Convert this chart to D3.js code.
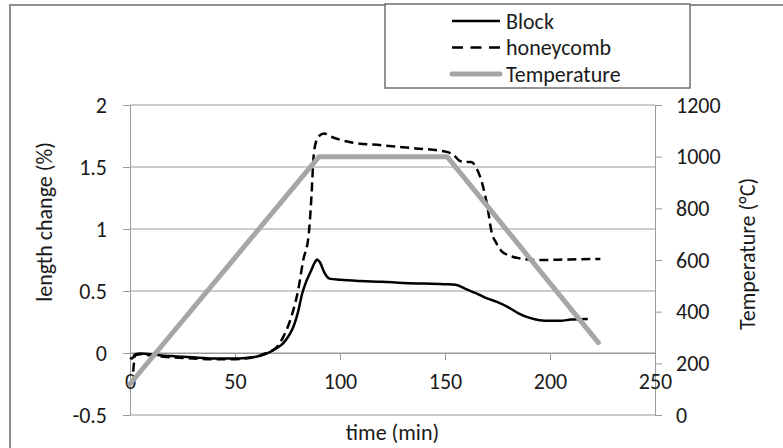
<!DOCTYPE html>
<html>
<head>
<meta charset="utf-8">
<script src="https://cdn.jsdelivr.net/npm/d3@7"></script>
<style>
  body { margin: 0; background: #fff; }
  svg text { font-family: Carlito, Calibri, Lato, sans-serif; fill: #1a1a1a; }
</style>
</head>
<body>
<div id="chart"></div>
<script>
// Block sample (solid line)
const blockTime = [0, 1, 2.5, 5, 10, 15, 20, 25, 30, 35, 40, 45, 50, 55, 60, 65, 70, 73, 76, 78, 80, 82, 84, 86, 88, 89, 90.5, 92.5, 95, 100, 110, 120, 130, 140, 150, 155, 160, 165, 170, 175, 180, 185, 190, 195, 200, 205, 210, 218];
const blockValue = [-0.04, -0.045, -0.01, -0.005, -0.01, -0.02, -0.025, -0.03, -0.035, -0.04, -0.045, -0.045, -0.045, -0.04, -0.03, -0.005, 0.04, 0.08, 0.15, 0.22, 0.33, 0.48, 0.58, 0.655, 0.73, 0.755, 0.73, 0.65, 0.6, 0.59, 0.58, 0.575, 0.565, 0.56, 0.555, 0.55, 0.515, 0.48, 0.44, 0.41, 0.37, 0.32, 0.285, 0.265, 0.26, 0.26, 0.27, 0.275];

// honeycomb sample (dashed line)
const honeyTime = [1.5, 2.5, 5, 10, 20, 30, 40, 50, 55, 60, 65, 70, 73, 76, 78, 80, 82.5, 85, 86.5, 87.3, 88.5, 90, 92.5, 95, 100, 105, 120, 136, 150, 154, 157, 160, 162.5, 165, 168, 170.5, 172, 174.5, 177, 180, 185, 195, 210, 224];
const honeyValue = [-0.15, -0.02, -0.01, -0.02, -0.035, -0.045, -0.05, -0.05, -0.045, -0.03, 0.0, 0.05, 0.13, 0.25, 0.36, 0.5, 0.75, 0.94, 1.29, 1.556, 1.7, 1.75, 1.77, 1.75, 1.72, 1.7, 1.675, 1.65, 1.625, 1.6, 1.55, 1.54, 1.54, 1.49, 1.35, 1.15, 0.99, 0.885, 0.82, 0.79, 0.765, 0.75, 0.755, 0.758];

// furnace temperature (secondary axis)
const tempTime = [0, 90, 151, 223];
const tempValue = [120, 1000, 1000, 280];

const xTicks = [0, 50, 100, 150, 200, 250];
const leftTicks = [-0.5, 0, 0.5, 1, 1.5, 2];
const rightTicks = [0, 200, 400, 600, 800, 1000, 1200];
const legendLabels = ["Block", "honeycomb", "Temperature"];

const width = 783, height = 448;
const plotLeft = 130, plotRight = 655, plotTop = 105, plotBottom = 415;
const fontSize = 22;

const svg = d3.select("#chart")
  .append("svg")
  .attr("width", width)
  .attr("height", height);

// outer chart border
svg.append("rect")
  .attr("x", 10).attr("y", 5)
  .attr("width", 800).attr("height", 500)
  .attr("fill", "none")
  .attr("stroke", "#8e8e8e")
  .attr("stroke-width", 2);

const x = d3.scaleLinear().domain([0, 250]).range([plotLeft, plotRight]);
const yLeft = d3.scaleLinear().domain([-0.5, 2]).range([plotBottom, plotTop]);
const yRight = d3.scaleLinear().domain([0, 1200]).range([plotBottom, plotTop]);

const gridColor = "#9a9a9a";

// horizontal gridlines
svg.append("g")
  .selectAll("line")
  .data(leftTicks)
  .enter()
  .append("line")
  .attr("x1", plotLeft)
  .attr("x2", plotRight)
  .attr("y1", d => yLeft(d))
  .attr("y2", d => yLeft(d))
  .attr("stroke", gridColor)
  .attr("stroke-width", 1);

// left axis (plain hyphen for negatives, like the original)
const leftAxis = svg.append("g")
  .attr("transform", `translate(${plotLeft},0)`)
  .call(d3.axisLeft(yLeft).tickValues(leftTicks).tickSize(7).tickPadding(16).tickFormat(d => String(d)));

// right axis
const rightAxis = svg.append("g")
  .attr("transform", `translate(${plotRight},0)`)
  .call(d3.axisRight(yRight).tickValues(rightTicks).tickSize(7).tickPadding(14).tickFormat(d => String(d)));

// x axis sits at zero of the left scale
const xAxis = svg.append("g")
  .attr("transform", `translate(0,${yLeft(0)})`)
  .call(d3.axisBottom(x).tickValues(xTicks).tickSize(7));

[leftAxis, rightAxis, xAxis].forEach(g => {
  g.select(".domain").attr("stroke", gridColor).attr("stroke-width", 1);
  g.selectAll(".tick line").attr("stroke", gridColor);
  g.selectAll(".tick text").attr("font-size", fontSize).attr("fill", "#1a1a1a")
    .style("font-family", "Carlito, Calibri, Lato, sans-serif");
});
xAxis.selectAll(".tick text").attr("y", 36).attr("dy", 0);

// lines
const blockLine = d3.line()
  .x((d, i) => x(blockTime[i]))
  .y(d => yLeft(d))
  .curve(d3.curveMonotoneX);

const honeyLine = d3.line()
  .x((d, i) => x(honeyTime[i]))
  .y(d => yLeft(d))
  .curve(d3.curveMonotoneX);

const tempLine = d3.line()
  .x((d, i) => x(tempTime[i]))
  .y(d => yRight(d));

svg.append("path")
  .datum(blockValue)
  .attr("d", blockLine)
  .attr("fill", "none")
  .attr("stroke", "#000")
  .attr("stroke-width", 2.5);

svg.append("path")
  .datum(honeyValue)
  .attr("d", honeyLine)
  .attr("fill", "none")
  .attr("stroke", "#000")
  .attr("stroke-width", 2.5)
  .attr("stroke-dasharray", "9,5");

svg.append("path")
  .datum(tempValue)
  .attr("d", tempLine)
  .attr("fill", "none")
  .attr("stroke", "#a6a6a6")
  .attr("stroke-width", 5)
  .attr("stroke-linecap", "round")
  .attr("stroke-linejoin", "round");

// axis titles
svg.append("text")
  .attr("transform", "translate(52,222) rotate(-90)")
  .attr("text-anchor", "middle")
  .attr("font-size", fontSize)
  .text("length change (%)");

svg.append("text")
  .attr("transform", "translate(755,254) rotate(-90)")
  .attr("text-anchor", "middle")
  .attr("font-size", fontSize)
  .text("Temperature (°C)");

svg.append("text")
  .attr("x", (plotLeft + plotRight) / 2)
  .attr("y", 440)
  .attr("text-anchor", "middle")
  .attr("font-size", fontSize)
  .text("time (min)");

// legend
const legend = svg.append("g");
legend.append("rect")
  .attr("x", 385).attr("y", 4)
  .attr("width", 305).attr("height", 84)
  .attr("fill", "#fff")
  .attr("stroke", "#6f6f6f")
  .attr("stroke-width", 1.5);

const legendStroke = [
  { color: "#000", width: 2.5, dash: null },
  { color: "#000", width: 2.5, dash: "11,7.5" },
  { color: "#a6a6a6", width: 5, dash: null }
];

const legendItem = legend.selectAll(".legend-item")
  .data(legendLabels)
  .enter()
  .append("g")
  .attr("class", "legend-item")
  .attr("transform", (d, i) => `translate(452, ${21 + i * 26.5})`);

legendItem.append("line")
  .attr("x1", 0).attr("x2", 48)
  .attr("y1", 0).attr("y2", 0)
  .attr("stroke", (d, i) => legendStroke[i].color)
  .attr("stroke-width", (d, i) => legendStroke[i].width)
  .attr("stroke-dasharray", (d, i) => legendStroke[i].dash)
  .attr("stroke-linecap", (d, i) => i === 2 ? "round" : "butt");

legendItem.append("text")
  .attr("x", 54)
  .attr("y", 7.5)
  .attr("font-size", fontSize)
  .text(d => d);
</script>
</body>
</html>
